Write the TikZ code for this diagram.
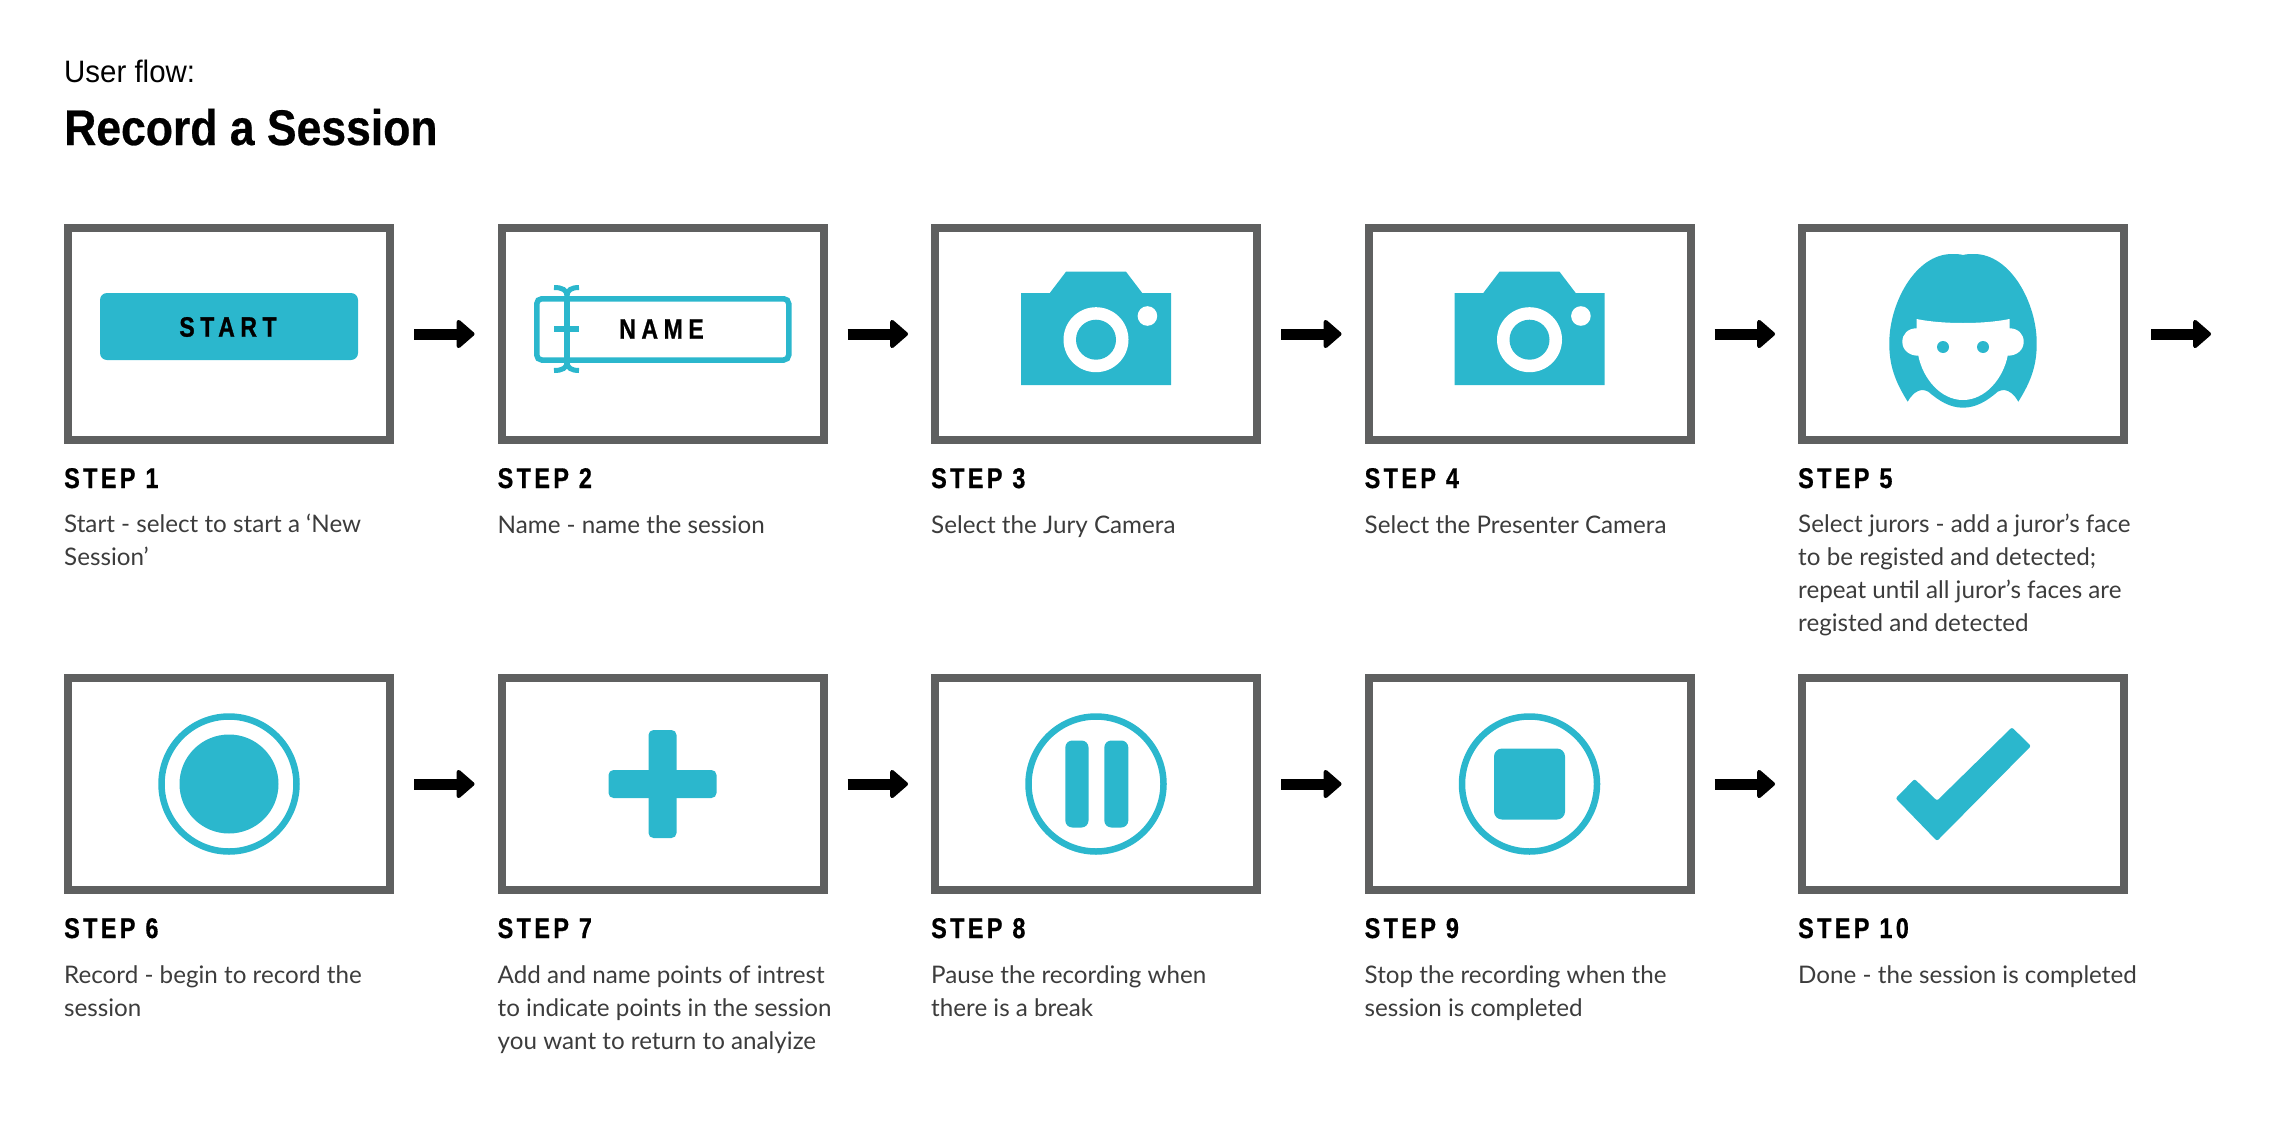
\documentclass[tikz,border=0pt]{standalone}
\usepackage{fontspec}
\usetikzlibrary{arrows.meta}
\newfontfamily\subheadfont[FakeStretch=0.95]{Liberation Sans}
\newfontfamily\headfont[FakeStretch=0.89,FakeBold=0.5]{Liberation Sans}
\newfontfamily\stepfont[FakeStretch=0.82,LetterSpace=12,FakeBold=0.7]{Liberation Sans}
\newfontfamily\iconfont[FakeStretch=0.82,LetterSpace=20,FakeBold=0.9]{Liberation Sans}
\newfontfamily\notefont{Lato}
\definecolor{boxgrey}{HTML}{5F6060}
\definecolor{iconteal}{HTML}{2BB7CD}
\definecolor{notegrey}{HTML}{3C3C3C}

\begin{document}
\begin{tikzpicture}[x=1pt,y=-1pt,node distance=433.5pt]
  \tikzstyle{stepbox}=[rectangle,draw=boxgrey,line width=8pt,inner sep=0pt,
                       minimum width=322pt,minimum height=212pt]
  \tikzstyle{steptitle}=[anchor=base west,inner sep=0pt,text=black,
                         font=\stepfont\bfseries\fontsize{28.5}{30}\selectfont]
  \tikzstyle{stepnote}=[anchor=north west,inner sep=0pt,text=notegrey,align=left,
                        font=\notefont\fontsize{24.2}{33}\selectfont]
  \tikzstyle{flow}=[line width=11pt,shorten <=20pt,shorten >=23pt,
                    -{Triangle[length=19pt,width=32pt,line width=4pt,round]}]
  \tikzstyle{ring}=[draw=iconteal,line width=6.5pt]
  \tikzstyle{icon}=[fill=iconteal,draw=none]
  \tikzstyle{iconlabel}=[inner sep=0pt,font=\iconfont\bfseries\fontsize{28}{30}\selectfont]
  \useasboundingbox (0,0) rectangle (2276,1148);

  \node [anchor=base west,inner sep=0pt,font=\subheadfont\fontsize{31}{32}\selectfont]
    (subtitle) at (64,82) {User flow:};
  \node [anchor=base west,inner sep=0pt,font=\headfont\bfseries\fontsize{50}{52}\selectfont]
    (title) at (64,145) {Record a Session};

  % boxes
  \node [stepbox] (box1) at (229,334) {};
  \node [stepbox] (box2) [right of=box1] {};
  \node [stepbox] (box3) [right of=box2] {};
  \node [stepbox] (box4) [right of=box3] {};
  \node [stepbox] (box5) [right of=box4] {};
  \node [stepbox] (box6) at (229,784) {};
  \node [stepbox] (box7) [right of=box6] {};
  \node [stepbox] (box8) [right of=box7] {};
  \node [stepbox] (box9) [right of=box8] {};
  \node [stepbox] (box10) [right of=box9] {};
  \coordinate (exit) at (2234,334);

  % arrows
  \draw [flow] (box1) -- (box2);
  \draw [flow] (box2) -- (box3);
  \draw [flow] (box3) -- (box4);
  \draw [flow] (box4) -- (box5);
  \draw [flow,shorten <=23pt] (box5) -- (exit);
  \draw [flow] (box6) -- (box7);
  \draw [flow] (box7) -- (box8);
  \draw [flow] (box8) -- (box9);
  \draw [flow] (box9) -- (box10);

  % start
  \begin{scope}[shift={(box1.center)}]
    \fill [icon,rounded corners=7pt] (-129,-41) rectangle (129,26);
    \node [iconlabel] (startlabel) at (-1,-7) {START};
  \end{scope}

  % name
  \begin{scope}[shift={(box2.center)}]
    \draw [draw=iconteal,line width=5.5pt,rounded corners=5pt]
      (-125.75,-35.25) rectangle (126.25,26);
    \draw [draw=iconteal,line width=5.5pt] (-95.5,-38) -- (-95.5,28);
    \draw [draw=iconteal,line width=6pt] (-108.5,-5) -- (-83.5,-5);
    \draw [draw=iconteal,line width=5pt]
      (-108.5,-46.5) .. controls (-100,-46.5) and (-95.5,-44) .. (-95.5,-38)
      .. controls (-95.5,-44) and (-91,-46.5) .. (-83.5,-46.5);
    \draw [draw=iconteal,line width=5pt]
      (-108.5,36.5) .. controls (-100,36.5) and (-95.5,34) .. (-95.5,28)
      .. controls (-95.5,34) and (-91,36.5) .. (-83.5,36.5);
    \node [iconlabel] (namelabel) at (-1,-5) {NAME};
  \end{scope}

  % cameras
  \begin{scope}[shift={(box3.center)}]
    \fill [icon] (-75,51) -- (-75,-41) -- (-46.2,-41) -- (-30,-62.3) -- (30,-62.3)
      -- (46.2,-41) -- (75,-41) -- (75,51) -- cycle;
    \fill [white] (0,5.7) circle (32.5);
    \fill [icon] (0,5.7) circle (20);
    \fill [white] (51.4,-18) circle (9.8);
  \end{scope}
  \begin{scope}[shift={(box4.center)}]
    \fill [icon] (-75,51) -- (-75,-41) -- (-46.2,-41) -- (-30,-62.3) -- (30,-62.3)
      -- (46.2,-41) -- (75,-41) -- (75,51) -- cycle;
    \fill [white] (0,5.7) circle (32.5);
    \fill [icon] (0,5.7) circle (20);
    \fill [white] (51.4,-18) circle (9.8);
  \end{scope}

  % face
  \begin{scope}[shift={(box5.center)}]
    \fill [icon] (0,-79) .. controls (-4,-80) and (-7,-80) .. (-11,-80)
      .. controls (-48,-80) and (-74,-30) .. (-73.7,9.3)
      .. controls (-74,35) and (-65,52) .. (-55.3,67.7)
      .. controls (-51,60) and (-46,56.5) .. (-41.3,56)
      .. controls (-39,56) and (-37,56.5) .. (-34.7,57.7)
      .. controls (-24,67) and (-13,73.7) .. (0,73.7)
      .. controls (13,73.7) and (24,67) .. (34.7,57.7)
      .. controls (37,56.5) and (39,56) .. (41.3,56)
      .. controls (46,56.5) and (51,60) .. (55.3,67.7)
      .. controls (65,52) and (74,35) .. (73.7,9.3)
      .. controls (74,-30) and (48,-80) .. (11,-80)
      .. controls (7,-80) and (4,-80) .. (0,-79) -- cycle;
    \fill [white] (-46.5,-15) .. controls (-32,-12) and (-15,-11) .. (0,-11)
      .. controls (15,-11) and (32,-12) .. (46.5,-15) -- (46.5,-5.7)
      .. controls (55,-5.7) and (60.7,0) .. (60.7,7.7)
      .. controls (60.7,16) and (54,21.7) .. (44.7,21.7)
      .. controls (40,45) and (22,66) .. (0,66)
      .. controls (-22,66) and (-40,45) .. (-44.7,21.7)
      .. controls (-54,21.7) and (-60.7,16) .. (-60.7,7.7)
      .. controls (-60.7,0) and (-55,-5.7) .. (-46.5,-5.7) -- cycle;
    \fill [icon] (-20,13) circle (6);
    \fill [icon] (20,13) circle (6);
  \end{scope}

  % record
  \begin{scope}[shift={(box6.center)}]
    \draw [ring] (0,0) circle (67.5);
    \fill [icon] (0,0) circle (49.5);
  \end{scope}

  % plus
  \begin{scope}[shift={(box7.center)}]
    \fill [icon,rounded corners=5pt] (-54,-14) rectangle (54,14);
    \fill [icon,rounded corners=5pt] (-14,-54) rectangle (14,54);
  \end{scope}

  % pause
  \begin{scope}[shift={(box8.center)}]
    \draw [ring] (0,0) circle (67.5);
    \fill [icon,rounded corners=7pt] (-30.7,-43.5) rectangle (-7.5,43.5);
    \fill [icon,rounded corners=7pt] (8.3,-43.5) rectangle (32.3,43.5);
  \end{scope}

  % stop
  \begin{scope}[shift={(box9.center)}]
    \draw [ring] (0,0) circle (67.5);
    \fill [icon,rounded corners=8pt] (-35.5,-35.5) rectangle (35.5,35.5);
  \end{scope}

  % check
  \begin{scope}[shift={(box10.center)}]
    \fill [icon,rounded corners=2pt] (48.9,-56.7) -- (68,-38) -- (-26,57)
      -- (-67.4,14.3) -- (-48.4,-5) -- (-26,16.7) -- cycle;
  \end{scope}

  % titles
  \node [steptitle,yshift=-44pt] (title1) at (box1.south west) {STEP 1};
  \node [steptitle,yshift=-44pt] (title2) at (box2.south west) {STEP 2};
  \node [steptitle,yshift=-44pt] (title3) at (box3.south west) {STEP 3};
  \node [steptitle,yshift=-44pt] (title4) at (box4.south west) {STEP 4};
  \node [steptitle,yshift=-44pt] (title5) at (box5.south west) {STEP 5};
  \node [steptitle,yshift=-44pt] (title6) at (box6.south west) {STEP 6};
  \node [steptitle,yshift=-44pt] (title7) at (box7.south west) {STEP 7};
  \node [steptitle,yshift=-44pt] (title8) at (box8.south west) {STEP 8};
  \node [steptitle,yshift=-44pt] (title9) at (box9.south west) {STEP 9};
  \node [steptitle,yshift=-44pt] (title10) at (box10.south west) {STEP 10};

  % notes
  \node [stepnote,yshift=-70pt] (note1) at (box1.south west)
    {Start - select to start a ‘New\\Session’};
  \node [stepnote,yshift=-71.4pt] (note2) at (box2.south west)
    {Name - name the session};
  \node [stepnote,yshift=-71.4pt] (note3) at (box3.south west)
    {Select the Jury Camera};
  \node [stepnote,yshift=-71.4pt] (note4) at (box4.south west)
    {Select the Presenter Camera};
  \node [stepnote,yshift=-70pt] (note5) at (box5.south west)
    {Select jurors - add a juror’s face\\to be registed and detected;\\repeat until all juror’s faces are\\registed and detected};
  \node [stepnote,yshift=-71.4pt] (note6) at (box6.south west)
    {Record - begin to record the\\session};
  \node [stepnote,yshift=-71.4pt] (note7) at (box7.south west)
    {Add and name points of intrest\\to indicate points in the session\\you want to return to analyize};
  \node [stepnote,yshift=-71.4pt] (note8) at (box8.south west)
    {Pause the recording when\\there is a break};
  \node [stepnote,yshift=-71.4pt] (note9) at (box9.south west)
    {Stop the recording when the\\session is completed};
  \node [stepnote,yshift=-71.4pt] (note10) at (box10.south west)
    {Done - the session is completed};
\end{tikzpicture}
\end{document}
